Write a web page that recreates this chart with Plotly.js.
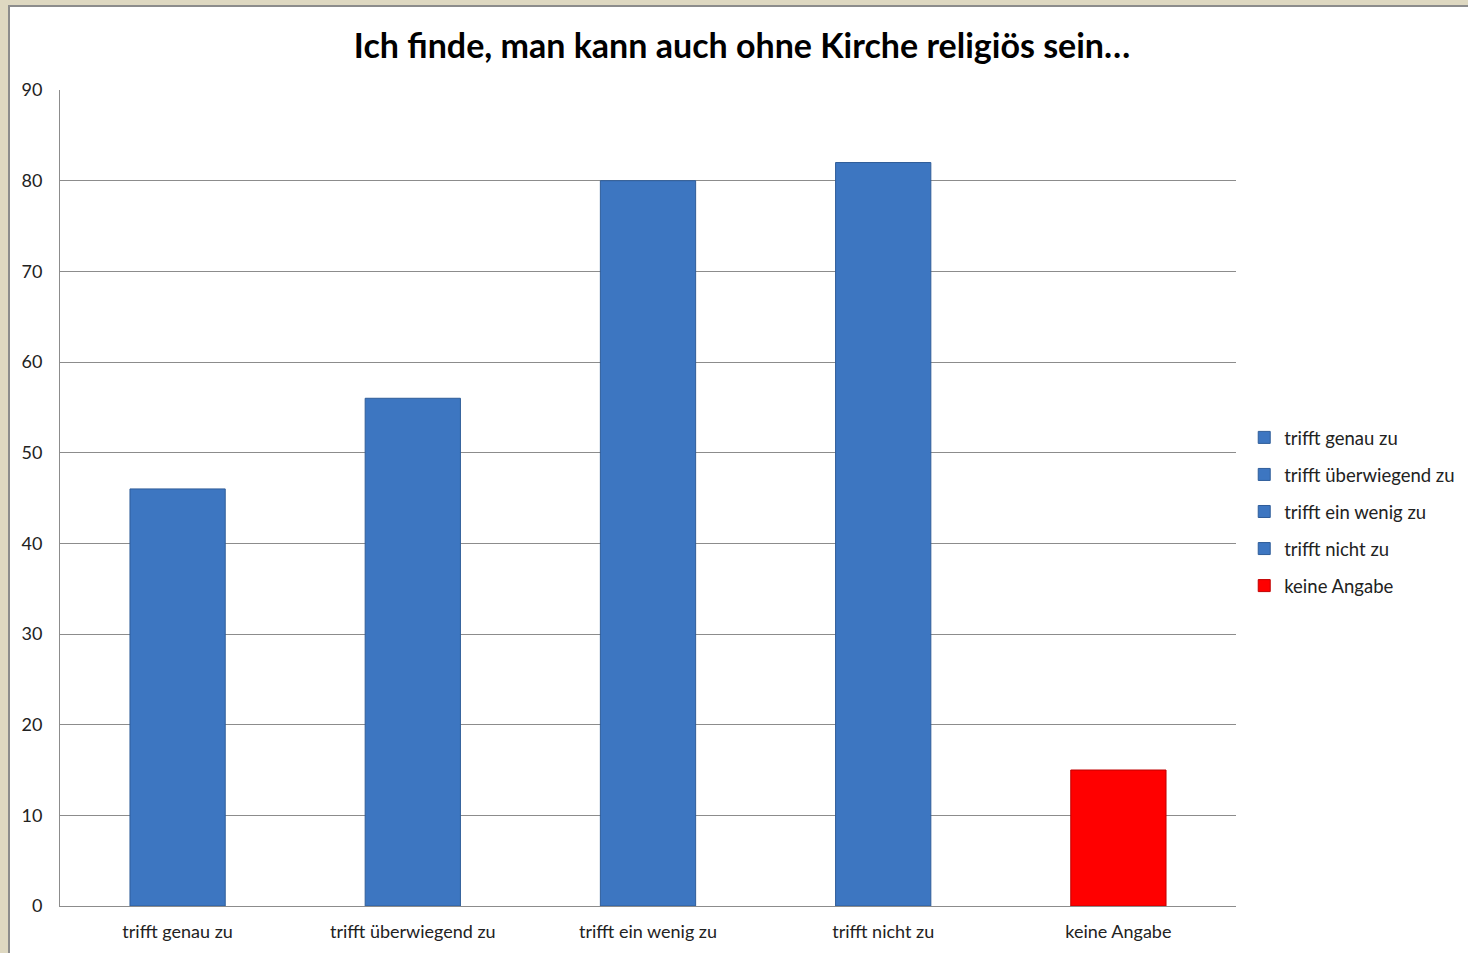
<!DOCTYPE html>
<html>
<head>
<meta charset="utf-8">
<script src="https://cdn.plot.ly/plotly-3.0.1.min.js"></script>
<style>
html, body { margin: 0; padding: 0; width: 1468px; height: 953px; overflow: hidden; background: #DED8C1; }
#frame { position: absolute; left: 8px; top: 5px; width: 1460px; height: 948px; border-left: 2px solid #8C8C8C; border-top: 2px solid #8C8C8C; background: #ffffff; overflow: hidden; }
#chart { width: 1540px; height: 946px; }
</style>
</head>
<body>
<div id="frame"><div id="chart"></div></div>
<script>
const categories = ["trifft genau zu", "trifft überwiegend zu", "trifft ein wenig zu", "trifft nicht zu", "keine Angabe"];
const values = [46, 56, 80, 82, 15];
const barColors = ["#3D76C1", "#3D76C1", "#3D76C1", "#3D76C1", "#FF0000"];
const lineColors = ["#2F5D99", "#2F5D99", "#2F5D99", "#2F5D99", "#C00000"];
const yTicks = [0, 10, 20, 30, 40, 50, 60, 70, 80, 90];
const titleText = "Ich finde, man kann auch ohne Kirche religiös sein…";

const traces = categories.map((c, i) => ({
  type: "bar",
  name: c,
  x: [c],
  y: [values[i]],
  width: 0.405,
  legendgroup: "g" + i,
  marker: { color: barColors[i], line: { color: lineColors[i], width: 1 } },
  hoverinfo: "x+y"
}));

const layout = {
  width: 1540, height: 946,
  margin: { l: 50, r: 314, t: 83, b: 47 },
  paper_bgcolor: "#ffffff",
  plot_bgcolor: "#ffffff",
  barmode: "overlay",
  font: { family: "Lato, 'Open Sans', sans-serif", size: 18, color: "#222222" },
  title: {
    text: titleText,
    font: { family: "Lato, 'Open Sans', sans-serif", size: 34, color: "#000000", weight: "bold" },
    x: 0.58, xanchor: "center", xref: "paper",
    y: 0.959, yanchor: "middle", yref: "container"
  },
  xaxis: {
    type: "category",
    categoryorder: "array",
    categoryarray: categories,
    showgrid: false,
    showline: true,
    linecolor: "#8C8C8C",
    linewidth: 1,
    ticks: "",
    ticklabelstandoff: 9,
    tickfont: { size: 18, color: "#222222" },
    range: [-0.5, 4.5],
    fixedrange: true
  },
  yaxis: {
    range: [0, 90],
    tickvals: yTicks,
    ticktext: yTicks.map(String),
    showgrid: true,
    gridcolor: "#8C8C8C",
    gridwidth: 1,
    showline: true,
    linecolor: "#8C8C8C",
    linewidth: 1,
    ticks: "",
    ticklabelstandoff: 13,
    tickfont: { size: 18, color: "#222222" },
    zeroline: false,
    fixedrange: true
  },
  showlegend: true,
  legend: {
    x: 1.007, xanchor: "left",
    y: 0.483, yanchor: "middle",
    traceorder: "grouped",
    tracegroupgap: 10,
    font: { size: 18.5, color: "#222222" },
    itemwidth: 30,
    bgcolor: "rgba(0,0,0,0)"
  }
};

Plotly.newPlot("chart", traces, layout, { displayModeBar: false, staticPlot: true });
</script>
</body>
</html>
